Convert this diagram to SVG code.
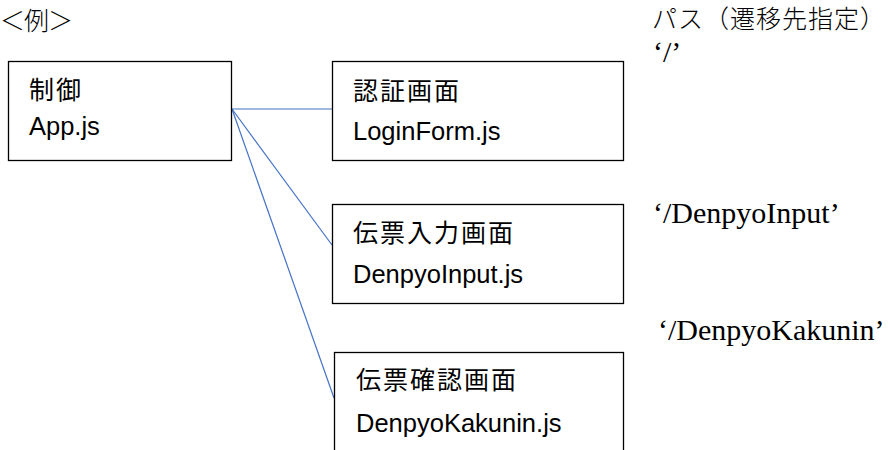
<svg xmlns="http://www.w3.org/2000/svg" width="890" height="450" viewBox="0 0 890 450">
  <style>
    .box { fill: #ffffff; stroke: #000000; stroke-width: 1.3; }
    .jp { font-family: "Noto Sans CJK JP", "Liberation Sans", sans-serif; font-size: 25px; fill: #000000; }
    .js { font-family: "Liberation Sans", "Noto Sans CJK JP", sans-serif; font-size: 25.5px; fill: #000000; }
    .head { font-family: "Noto Sans CJK JP", sans-serif; font-size: 25px; font-weight: 300; fill: #000000; }
    .path { font-family: "Liberation Serif", "Times New Roman", serif; font-size: 30px; fill: #000000; }
    .link { stroke: #4472c4; stroke-width: 1.2; fill: none; }
  </style>
  <rect width="890" height="450" fill="#ffffff"/>

  <!-- headings -->
  <text class="head" x="0" y="30" letter-spacing="-1">＜例＞</text>
  <text class="head" x="652" y="28" letter-spacing="1">パス（遷移先指定）</text>

  <!-- connectors from the controller to each screen -->
  <g id="connectors">
    <line class="link" x1="232" y1="109" x2="332" y2="109"/>
    <line class="link" x1="232" y1="109" x2="332" y2="245"/>
    <line class="link" x1="232" y1="109" x2="334" y2="398"/>
  </g>

  <g id="app">
    <rect class="box" x="8.5" y="61.5" width="223" height="99"/>
    <text class="jp" x="29" y="99" letter-spacing="2">制御</text>
    <text class="js" x="29" y="135">App.js</text>
  </g>

  <g id="login-form">
    <rect class="box" x="332.5" y="61.5" width="291" height="99"/>
    <text class="jp" x="353" y="100" letter-spacing="2">認証画面</text>
    <text class="js" x="353" y="140">LoginForm.js</text>
  </g>

  <g id="denpyo-input">
    <rect class="box" x="332.5" y="204.5" width="291" height="99"/>
    <text class="jp" x="353" y="242" letter-spacing="2">伝票入力画面</text>
    <text class="js" x="353" y="283">DenpyoInput.js</text>
  </g>

  <g id="denpyo-kakunin">
    <rect class="box" x="334.5" y="352.5" width="289" height="120"/>
    <text class="jp" x="356" y="389" letter-spacing="2">伝票確認画面</text>
    <text class="js" x="356" y="432">DenpyoKakunin.js</text>
  </g>

  <!-- route paths -->
  <text class="path" x="653" y="62">‘/’</text>
  <text class="path" x="653" y="223">‘/DenpyoInput’</text>
  <text class="path" x="658" y="340">‘/DenpyoKakunin’</text>
</svg>
